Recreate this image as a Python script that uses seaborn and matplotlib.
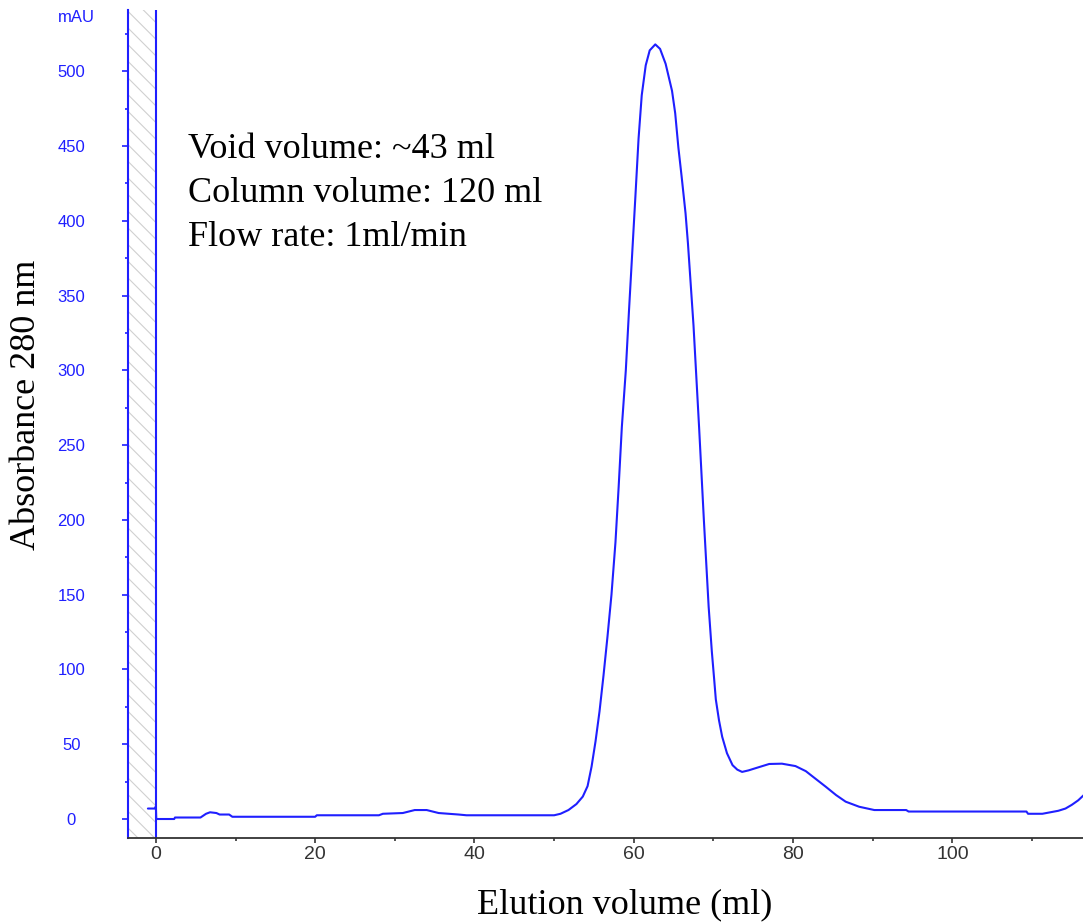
import numpy as np
import matplotlib
matplotlib.use("Agg")
import matplotlib.pyplot as plt
import seaborn as sns
import pandas as pd
from matplotlib.ticker import MultipleLocator

# Chromatogram trace (elution volume in ml, absorbance in mAU)
volume_ml = [-1.0, -0.1, 0.0, 0.05, 2.3, 2.4, 5.6, 6.3, 6.8, 7.6, 8.0, 9.2, 9.6,
             20.0, 20.2, 28.0, 28.5, 31.0, 32.5, 34.0, 35.5, 38.0, 39.0, 50.0,
             50.8, 51.8, 52.8, 53.6, 54.2, 54.7, 55.2, 55.7, 56.2, 56.7, 57.2,
             57.7, 58.1, 58.5, 59.0, 59.4, 59.8, 60.2, 60.6, 61.0, 61.5, 62.0,
             62.7, 63.3, 64.0, 64.8, 65.2, 65.6, 66.0, 66.5, 66.8, 67.5, 68.2,
             68.8, 69.4, 69.8, 70.1, 70.3, 70.7, 71.1, 71.7, 72.4, 73.0, 73.6,
             74.4, 75.3, 77.0, 78.6, 80.3, 81.6, 82.8, 84.1, 85.4, 86.6, 88.3,
             90.2, 94.2, 94.5, 109.3, 109.5, 111.3, 112.3, 113.3, 114.2, 115.0,
             115.8, 116.5]
absorbance_mau = [7, 7, 8.5, 0, 0, 1, 1, 3.5, 4.5, 4, 3, 3, 1.5,
                  1.5, 2.5, 2.5, 3.5, 4, 6, 6, 4, 3, 2.5, 2.5,
                  3.5, 6, 10, 15, 22, 35, 52, 72, 96, 122, 150,
                  185, 222, 262, 300, 340, 378, 416, 455, 484, 504, 514,
                  518, 515, 505, 487, 472, 449, 430, 405, 385, 330, 262,
                  200, 142, 112, 93, 80, 66, 55, 44, 36, 33, 31.5,
                  32.5, 34, 36.8, 37, 35.4, 32, 27, 21.6, 16, 11.6, 8.2,
                  6, 6, 5, 5, 3.5, 3.5, 4.5, 5.5, 7, 9.5,
                  12.5, 16]

y_ticks = [0, 50, 100, 150, 200, 250, 300, 350, 400, 450, 500]
x_ticks = [0, 20, 40, 60, 80, 100]
notes = ["Void volume: ~43 ml", "Column volume: 120 ml", "Flow rate: 1ml/min"]

df = pd.DataFrame({"volume": volume_ml, "absorbance": absorbance_mau})

sns.set_style("white")
plt.rcParams["font.family"] = ["Liberation Sans", "DejaVu Sans"]
plt.rcParams["hatch.linewidth"] = 0.8

fig = plt.figure(figsize=(10.83, 9.24), dpi=100)
ax = fig.add_axes([128 / 1083, 86 / 924, 1 - 128 / 1083, (838 - 10) / 924])

blue = "#1f1fff"
ax.axvspan(-3.5, 0, facecolor="none", edgecolor="#d0d0d0", hatch="\\\\", linewidth=0)
ax.axvline(0, color=blue, lw=1.5)
sns.lineplot(data=df, x="volume", y="absorbance", sort=False, estimator=None,
             color=blue, lw=1.5, ax=ax)

ax.set_xlim(-3.5, 116.4)
ax.set_ylim(-12.7, 541)
ax.set_xlabel("")
ax.set_ylabel("")

for side in ["top", "right"]:
    ax.spines[side].set_visible(False)
ax.spines["left"].set_color(blue)
ax.spines["left"].set_linewidth(1.5)
ax.spines["bottom"].set_color("#333333")
ax.spines["bottom"].set_linewidth(1.3)

ax.set_yticks(y_ticks)
ax.yaxis.set_minor_locator(MultipleLocator(25))
ax.set_xticks(x_ticks)
ax.xaxis.set_minor_locator(MultipleLocator(10))
ax.tick_params(axis="y", which="major", direction="out", length=4.3, width=1.2,
               color=blue, labelcolor=blue, labelsize=12, pad=36.5, left=True)
ax.tick_params(axis="y", which="minor", direction="out", length=2, width=1.2,
               color=blue, left=True)
ax.tick_params(axis="x", which="major", direction="out", length=3.6, width=1.2,
               color="#333333", labelcolor="#333333", labelsize=14, pad=2, bottom=True)
ax.tick_params(axis="x", which="minor", direction="out", length=2, width=1.2,
               color="#333333", bottom=True)
for lbl in ax.get_yticklabels():
    lbl.set_horizontalalignment("center")

fig.text(76 / 1083, 1 - 17 / 924, "mAU", color=blue, fontsize=12,
         ha="center", va="center")

serif = ["Liberation Serif", "DejaVu Serif"]
fig.text(27 / 1083, 1 - 405 / 924, "Absorbance 280 nm", family=serif, fontsize=26,
         color="black", rotation=90, ha="center", va="center")
fig.text(625 / 1083, 1 - 905 / 924, "Elution volume (ml)", family=serif, fontsize=26,
         color="black", ha="center", va="center")
for i, line in enumerate(notes):
    fig.text(188 / 1083, 1 - (150 + 43.5 * i) / 924, line, family=serif, fontsize=26,
             color="black", ha="left", va="center")

fig.savefig("out.png", dpi=100)
